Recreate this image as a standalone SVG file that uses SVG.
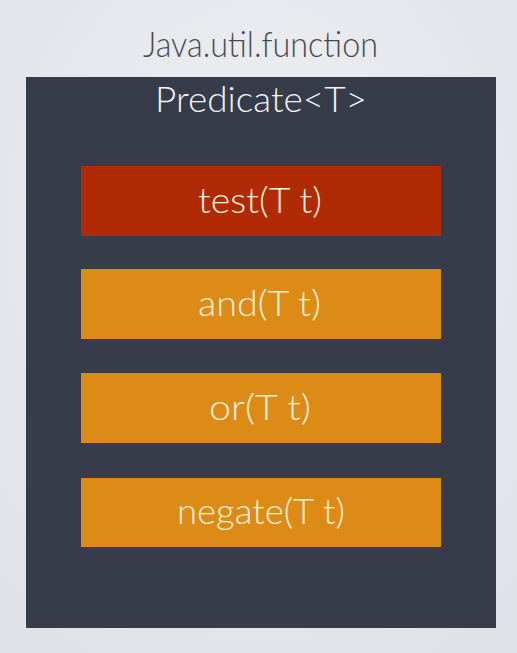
<svg xmlns="http://www.w3.org/2000/svg" width="517" height="653" viewBox="0 0 517 653">
  <defs>
    <radialGradient id="bg" cx="50%" cy="35%" r="75%">
      <stop offset="0" stop-color="#eef0f3"/>
      <stop offset="1" stop-color="#dfe2e7"/>
    </radialGradient>
  </defs>
  <style>
    text { font-family: Lato, "Open Sans", "Liberation Sans", sans-serif; font-weight: 300; text-anchor: middle; }
    .title { font-size: 35px; fill: #4a4a4a; }
    .head { font-size: 36px; fill: #f4f4f4; }
    .lbl { font-size: 35px; fill: #fbf1dc; }
    .red { fill: #b02a06; }
    .org { fill: #dd8b17; }
  </style>
  <rect width="517" height="653" fill="url(#bg)"/>
  <g id="package">
    <text class="title" x="260.5" y="57" textLength="235" lengthAdjust="spacingAndGlyphs">Java.util.function</text>
  </g>
  <g id="predicate">
    <rect x="26" y="77" width="470" height="551" fill="#363c49"/>
    <text class="head" x="261" y="112" textLength="212" lengthAdjust="spacingAndGlyphs">Predicate&lt;T&gt;</text>
  </g>
  <g id="test">
    <rect class="red" x="81" y="166" width="360" height="70"/>
    <text class="lbl" x="260" y="213" textLength="124" lengthAdjust="spacingAndGlyphs">test(T t)</text>
  </g>
  <g id="and">
    <rect class="org" x="81" y="269" width="360" height="70"/>
    <text class="lbl" x="259.5" y="316" textLength="123" lengthAdjust="spacingAndGlyphs">and(T t)</text>
  </g>
  <g id="or">
    <rect class="org" x="81" y="373" width="360" height="70"/>
    <text class="lbl" x="260" y="420" textLength="102" lengthAdjust="spacingAndGlyphs">or(T t)</text>
  </g>
  <g id="negate">
    <rect class="org" x="81" y="478" width="360" height="69"/>
    <text class="lbl" x="261" y="524" textLength="168" lengthAdjust="spacingAndGlyphs">negate(T t)</text>
  </g>
</svg>
